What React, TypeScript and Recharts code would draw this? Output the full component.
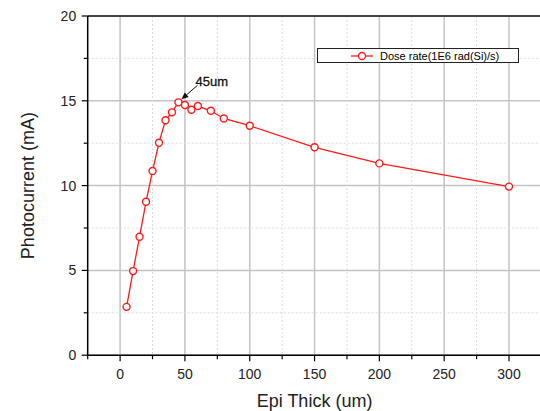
import {
  ComposedChart,
  Line,
  XAxis,
  YAxis,
  CartesianGrid,
  ReferenceLine,
  Legend,
  LabelList,
  Label,
} from 'recharts';

// Epi thickness (um) vs. photocurrent (mA)
const thickness = [5, 10, 15, 20, 25, 30, 35, 40, 45, 50, 55, 60, 70, 80, 100, 150, 200, 300];
const photocurrent = [
  2.85, 4.96, 6.98, 9.05, 10.86, 12.53, 13.85, 14.32, 14.91, 14.75, 14.47, 14.69, 14.41, 13.96,
  13.53, 12.26, 11.31, 9.94,
];
const seriesName = 'Dose rate(1E6 rad(Si)/s)';

const xMajor = [0, 50, 100, 150, 200, 250, 300];
const xMinor = [-25, 25, 75, 125, 175, 225, 275, 325];
const yMajor = [0, 5, 10, 15, 20];
const yMinor = [2.5, 7.5, 12.5, 17.5];

const data = thickness.map((t, i) => ({ thick: t, current: photocurrent[i] }));
const peakIndex = photocurrent.indexOf(Math.max(...photocurrent));

const FONT = '"Liberation Sans", Arial, sans-serif';
const RED = '#ff1a1a';

function XTick({ x, y, payload }: any) {
  const major = payload.value % 50 === 0;
  return (
    <g>
      <line x1={x} x2={x} y1={y} y2={y + (major ? 6 : 4)} stroke="#000" strokeWidth={1.2} />
      {major && (
        <text x={x} y={y + 23.5} textAnchor="middle" fontSize={14} fontFamily={FONT} fill="#222">
          {payload.value}
        </text>
      )}
    </g>
  );
}

function YTick({ x, y, payload }: any) {
  const major = payload.value % 5 === 0;
  return (
    <g>
      <line x1={x - (major ? 6 : 4)} x2={x} y1={y} y2={y} stroke="#000" strokeWidth={1.2} />
      {major && (
        <text x={x - 11.5} y={y + 5} textAnchor="end" fontSize={14} fontFamily={FONT} fill="#222">
          {payload.value}
        </text>
      )}
    </g>
  );
}

// arrow + text pointing at the peak point
function PeakNote(props: any) {
  const { x, y, index } = props;
  if (index !== peakIndex) return null;
  const x1 = x + 19;
  const y1 = y - 17;
  const x2 = x + 3;
  const y2 = y - 3;
  const ang = Math.atan2(y2 - y1, x2 - x1);
  const len = 7;
  const w = 3;
  const bx = x2 - len * Math.cos(ang);
  const by = y2 - len * Math.sin(ang);
  const px = -Math.sin(ang) * w;
  const py = Math.cos(ang) * w;
  return (
    <g>
      <line x1={x1} y1={y1} x2={bx} y2={by} stroke="#111" strokeWidth={1} />
      <polygon points={`${x2},${y2} ${bx + px},${by + py} ${bx - px},${by - py}`} fill="#111" />
      <text
        x={x + 17}
        y={y - 16.6}
        fontSize={13}
        fontFamily={FONT}
        fill="#111"
        stroke="#111"
        strokeWidth={0.3}
      >
        {thickness[peakIndex]}um
      </text>
    </g>
  );
}

function LegendBox() {
  return (
    <div
      style={{
        width: 202,
        height: 15,
        border: '1px solid #222',
        boxSizing: 'border-box',
        background: '#fff',
        display: 'flex',
        alignItems: 'center',
        fontFamily: FONT,
        fontSize: 11,
        color: '#000',
      }}
    >
      <svg width={24} height={10} style={{ marginLeft: 33, marginRight: 5 }}>
        <line x1={0} x2={22} y1={5} y2={5} stroke={RED} strokeWidth={1.3} />
        <circle cx={11} cy={5} r={3.5} fill="#fff" stroke={RED} strokeWidth={1.3} />
      </svg>
      <span>{seriesName}</span>
    </div>
  );
}

export default function App() {
  return (
    <div
      style={{
        position: 'absolute',
        left: 0,
        top: 0,
        width: 540,
        height: 411,
        overflow: 'hidden',
        background: '#fff',
      }}
    >
      <ComposedChart
        width={560}
        height={411}
        data={data}
        margin={{ top: 16, right: 18.6, bottom: 0, left: 0 }}
      >
        <CartesianGrid
          verticalValues={xMajor}
          horizontalValues={yMajor}
          stroke="#c4c4c4"
          strokeWidth={1.5}
        />
        <CartesianGrid
          verticalValues={xMinor}
          horizontalValues={yMinor}
          stroke="#dcdcdc"
          strokeDasharray="2 2"
        />
        <XAxis
          dataKey="thick"
          type="number"
          domain={[-25, 325]}
          ticks={[...xMinor, ...xMajor].sort((a, b) => a - b)}
          interval={0}
          tickSize={0}
          tickMargin={0}
          tickLine={false}
          tick={<XTick />}
          axisLine={{ stroke: '#000', strokeWidth: 1.5 }}
          height={55.8}
        >
          <Label
            content={({ viewBox }: any) => (
              <text
                x={viewBox.x + viewBox.width / 2}
                y={viewBox.y + 51.5}
                textAnchor="middle"
                fontSize={18}
                fontFamily={FONT}
                fill="#222"
              >
                Epi Thick (um)
              </text>
            )}
          />
        </XAxis>
        <YAxis
          type="number"
          domain={[0, 20]}
          ticks={[...yMinor, ...yMajor].sort((a, b) => a - b)}
          interval={0}
          tickSize={0}
          tickMargin={0}
          tickLine={false}
          tick={<YTick />}
          axisLine={{ stroke: '#000', strokeWidth: 1.5 }}
          width={87.7}
        >
          <Label
            content={({ viewBox }: any) => {
              const cx = 28;
              const cy = viewBox.y + viewBox.height / 2;
              return (
                <text
                  x={cx}
                  y={cy}
                  transform={`rotate(-90 ${cx} ${cy})`}
                  textAnchor="middle"
                  dominantBaseline="central"
                  fontSize={18}
                  fontFamily={FONT}
                  fill="#222"
                >
                  Photocurrent (mA)
                </text>
              );
            }}
          />
        </YAxis>
        <ReferenceLine y={20} stroke="#444" strokeWidth={2} />
        <ReferenceLine x={325} stroke="#444" strokeWidth={2} />
        <Legend
          layout="horizontal"
          verticalAlign="middle"
          align="center"
          content={<LegendBox />}
          wrapperStyle={{ left: 317, top: 48, width: 202 }}
        />
        <Line
          name={seriesName}
          dataKey="current"
          type="linear"
          stroke={RED}
          strokeWidth={1.3}
          dot={{ r: 3.5, fill: '#fff', stroke: RED, strokeWidth: 1.4 }}
          isAnimationActive={false}
        >
          <LabelList dataKey="current" content={<PeakNote />} />
        </Line>
      </ComposedChart>
    </div>
  );
}
